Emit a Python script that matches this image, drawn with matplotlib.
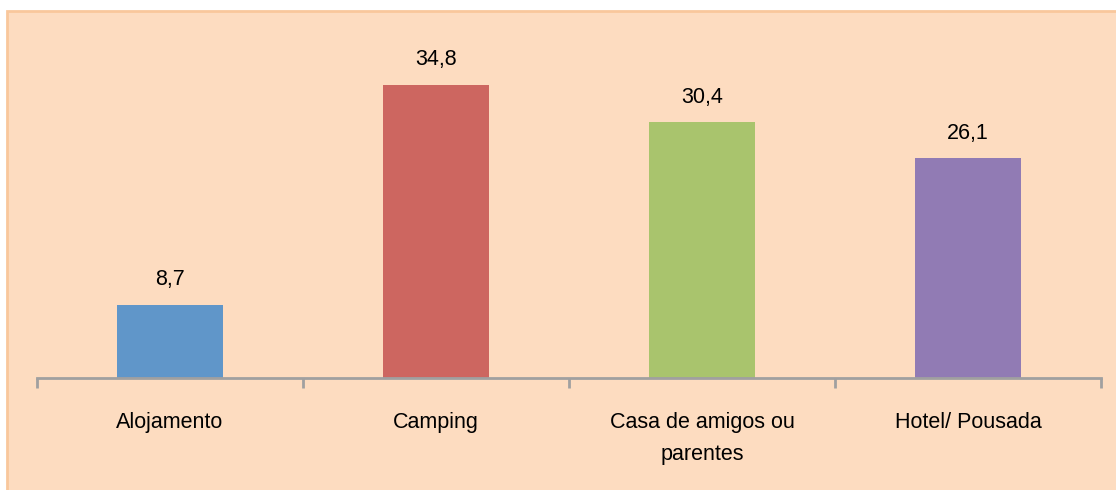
import matplotlib
matplotlib.use("Agg")
import matplotlib.pyplot as plt
from matplotlib.patches import Rectangle

categories = ["Alojamento", "Camping", "Casa de amigos ou\nparentes", "Hotel/ Pousada"]
values = [8.7, 34.8, 30.4, 26.1]
value_labels = ["8,7", "34,8", "30,4", "26,1"]
colors = ["#6096C9", "#CD6660", "#A9C46D", "#917BB4"]

plt.rcParams['font.family'] = ['Liberation Sans', 'DejaVu Sans']
PX = 72 / 100  # points per pixel at dpi 100

fig = plt.figure(figsize=(11.16, 4.9), dpi=100)
fig.patch.set_facecolor("white")
bg = Rectangle((7/1116, -0.05), 1.2, (490-11)/490 + 0.05, transform=fig.transFigure,
               facecolor="#FDDCC0", edgecolor="#F9C79C", linewidth=2, zorder=-10)
fig.patches.append(bg)

ax = fig.add_axes([37/1116, 1-378/490, (1101-37)/1116, (378-41.2)/490])
ax.set_facecolor("none")
x = list(range(len(categories)))
ax.bar(x, values, width=0.395, color=colors, zorder=2)
ax.set_xlim(-0.5, len(categories) - 0.5)
ax.set_ylim(0, 40)
for xi, v, lab in zip(x, values, value_labels):
    ax.annotate(lab, (xi, v), xytext=(0, 25 * PX), textcoords="offset points",
                ha="center", va="center", fontsize=15.5, color="black")

for s in ["top", "right", "left"]:
    ax.spines[s].set_visible(False)
ax.spines["bottom"].set_color("#A0A0A0")
ax.spines["bottom"].set_linewidth(2)
ax.set_yticks([])
ax.set_xticks([i - 0.5 for i in range(len(categories) + 1)])
ax.set_xticklabels([""] * (len(categories) + 1))
ax.tick_params(axis="x", direction="out", length=7, width=2, color="#A0A0A0")

for xi, cat in zip(x, categories):
    for li, line in enumerate(cat.split("\n")):
        ax.annotate(line, (xi, 0), xycoords=("data", "data"),
                    xytext=(0, -(44 + 32 * li) * PX), textcoords="offset points",
                    ha="center", va="center", fontsize=15.5, color="black",
                    annotation_clip=False)

fig.savefig("out.png", dpi=100)
